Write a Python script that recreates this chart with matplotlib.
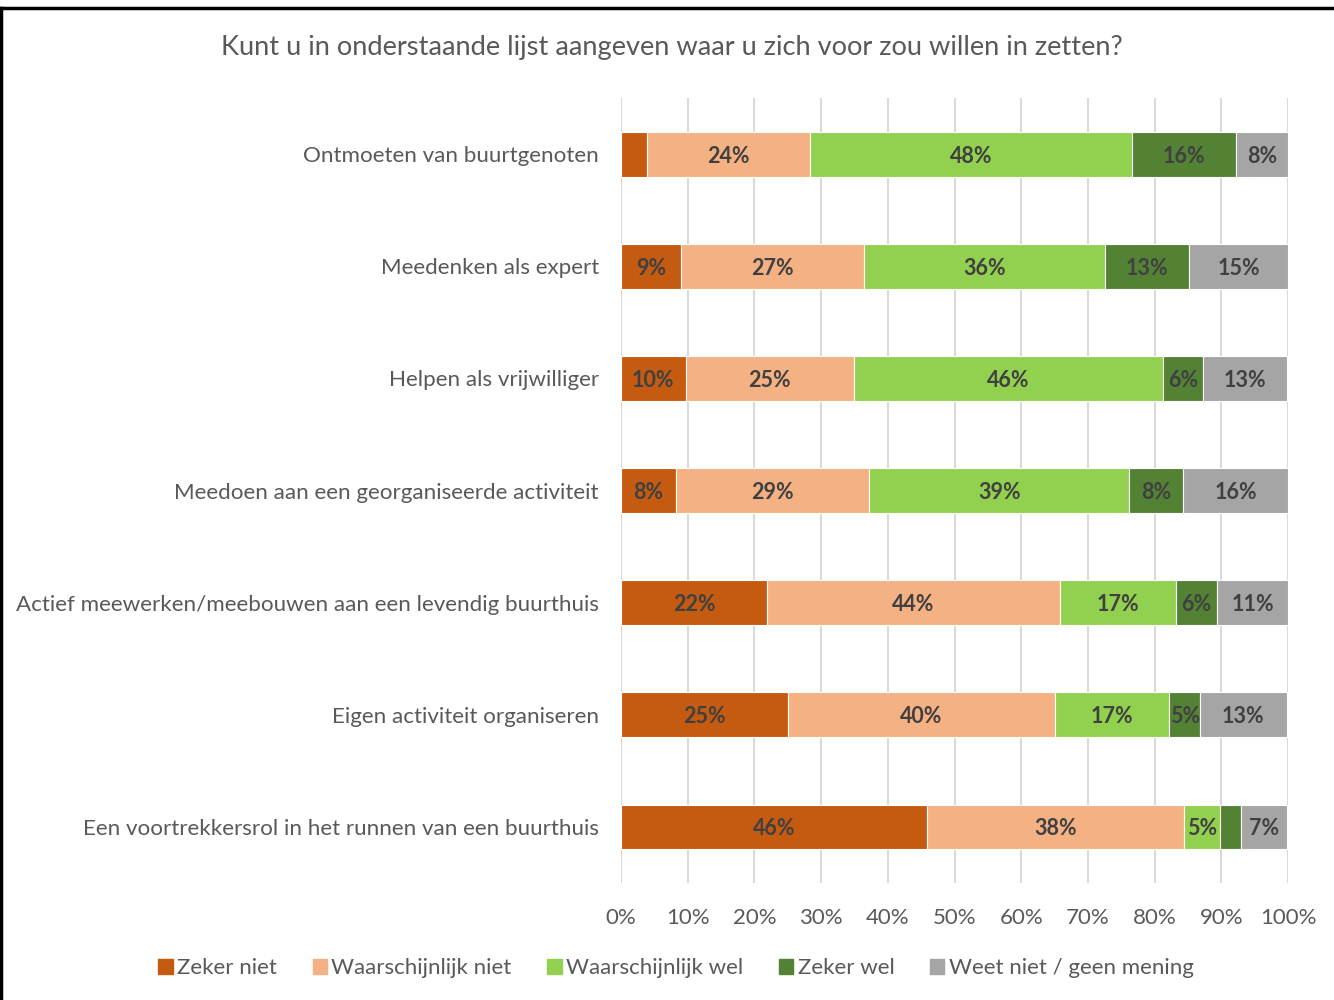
import numpy as np
import matplotlib.pyplot as plt
from matplotlib.lines import Line2D

# categorieen (van boven naar beneden)
categories = [
    'Ontmoeten van buurtgenoten',
    'Meedenken als expert',
    'Helpen als vrijwilliger',
    'Meedoen aan een georganiseerde activiteit',
    'Actief meewerken/meebouwen aan een levendig buurthuis',
    'Eigen activiteit organiseren',
    'Een voortrekkersrol in het runnen van een buurthuis',
]

series_names = ['Zeker niet', 'Waarschijnlijk niet', 'Waarschijnlijk wel',
                'Zeker wel', 'Weet niet / geen mening']

zeker_niet = [3.9, 9.0, 9.7, 8.2, 21.9, 25.0, 45.9]
waarsch_niet = [24.4, 27.4, 25.2, 29.0, 43.9, 40.0, 38.5]
waarsch_wel = [48.3, 36.2, 46.3, 39.0, 17.4, 17.2, 5.4]
zeker_wel = [15.6, 12.6, 6.1, 8.1, 6.2, 4.6, 3.1]
weet_niet = [7.8, 14.8, 12.6, 15.7, 10.6, 13.0, 7.0]

colors = ['#C55A11', '#F4B183', '#92D050', '#548235', '#A5A5A5']
xticks = [0, 10, 20, 30, 40, 50, 60, 70, 80, 90, 100]

plt.rcParams['font.family'] = ['Lato', 'DejaVu Sans']

fig = plt.figure(figsize=(13.34, 10), dpi=100)
ax = fig.add_axes([621 / 1334, 1 - 883 / 1000, 667 / 1334, 785 / 1000])

data = [zeker_niet, waarsch_niet, waarsch_wel, zeker_wel, weet_niet]
y = np.arange(len(categories))
left = np.zeros(len(categories))
for name, vals, col in zip(series_names, data, colors):
    vals = np.array(vals)
    ax.barh(y, vals, left=left, height=0.4, color=col, edgecolor='white',
            linewidth=0.8, label=name, zorder=3)
    for yi, l, v in zip(y, left, vals):
        if v >= 4.5:
            ax.text(l + v / 2, yi, f'{round(v):.0f}%', ha='center', va='center_baseline',
                    fontsize=15.5, fontweight='bold', color='#404040', zorder=4)
    left += vals

ax.set_xlim(0, 100)
ax.set_ylim(len(categories) - 0.5, -0.5)
ax.set_xticks(xticks)
ax.set_xticklabels([f'{t}%' for t in xticks], fontsize=16, color='#595959')
ax.set_yticks(y)
ax.set_yticklabels(categories, fontsize=16.1, color='#595959')
ax.tick_params(axis='both', length=0)
ax.tick_params(axis='x', pad=18)
ax.tick_params(axis='y', pad=16)
ax.grid(axis='x', color='#D9D9D9', linewidth=1.5, zorder=0)
for s in ax.spines.values():
    s.set_visible(False)

fig.text(672 / 1334, 1 - 48 / 1000,
         'Kunt u in onderstaande lijst aangeven waar u zich voor zou willen in zetten?',
         ha='center', va='center', fontsize=19.6, color='#595959')

handles = [plt.Rectangle((0, 0), 1, 1, color=c) for c in colors]
fig.legend(handles, series_names, loc='center', bbox_to_anchor=(676 / 1334, 1 - 968 / 1000),
           ncol=5, frameon=False, fontsize=16, handlelength=0.65, handleheight=0.65,
           handletextpad=0.2, columnspacing=1.6, labelcolor='#595959')

# kader rond de figuur
fig.add_artist(Line2D([0.001, 0.001], [0, 0.992], color='black', linewidth=2.5,
                      transform=fig.transFigure))
fig.add_artist(Line2D([0.001, 1], [0.992, 0.992], color='black', linewidth=2.5,
                      transform=fig.transFigure))

fig.savefig('out.png', dpi=100)
